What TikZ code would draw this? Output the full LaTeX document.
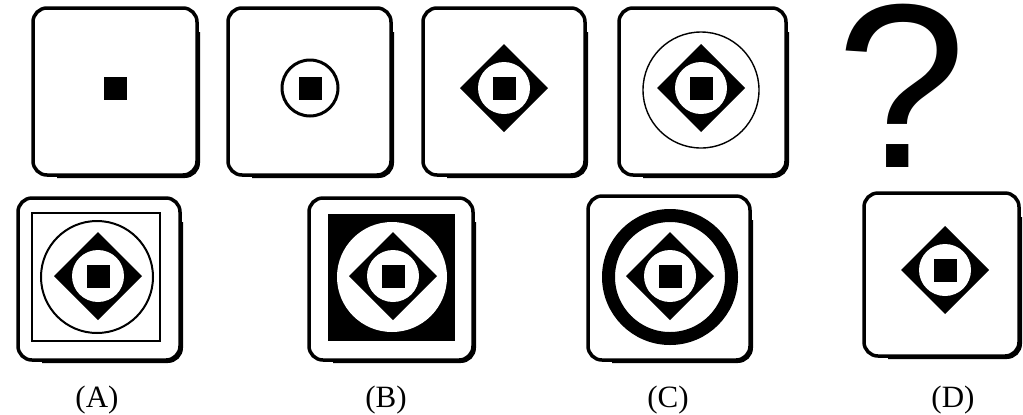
\documentclass[tikz,border=0pt]{standalone}
\usepackage{fontspec}
\setmainfont{Liberation Serif}
\newfontfamily\qfont{Liberation Sans}
\tikzset{
  frame/.style={line width=1.75pt, rounded corners=7pt},
  shadowline/.style={line width=1.2pt, rounded corners=7pt},
  label/.style={font=\fontsize{15.5}{15.5}\selectfont, anchor=base, inner sep=0pt},
  motif/.pic={
    \fill (-44,0) -- (0,-44) -- (44,0) -- (0,44) -- cycle;
    \fill[white] (0,0) circle (26);
    \fill (-11.5,-11.5) rectangle (11.5,11.5);
  }
}
\newcommand{\frm}[4]{%
  \draw[frame] (#1,#2) rectangle (#3,#4);
  \draw[shadowline] (#3+1.8,#2+24) -- (#3+1.8,#4+1.8) -- (#1+24,#4+1.8);
}
\begin{document}
\begin{tikzpicture}[x=0.5pt,y=-0.5pt]
\useasboundingbox (0,0) rectangle (1023,414);
% top row
\frm{33}{8}{197}{175}
\fill (103.5,76.5) rectangle (126.5,99.5);

\frm{228}{8}{391}{175}
\draw[line width=1.5pt] (310,88) circle (28);
\fill (299,77) rectangle (322,100);

\frm{423}{8}{585}{175}
\pic at (504,88) {motif};

\frm{619}{8}{786}{175}
\draw[line width=0.7pt] (701,90) circle (58);
\pic at (701,88) {motif};

\node[font=\qfont\fontsize{117}{117}\selectfont, anchor=base, inner sep=0pt] (q) at (901.5,167) {?};

% bottom row
\frm{18}{198}{180}{360}
\draw[line width=1pt] (32,213) rectangle (160,341);
\draw[line width=1pt] (97,277) circle (56);
\pic at (98,276) {motif};

\frm{309}{198}{473}{360}
\fill (328,214) rectangle (455,341);
\fill[white] (392,277) circle (55);
\pic at (393,276) {motif};

\frm{588}{196}{750}{360}
\draw[line width=6.5pt] (670,277) circle (61.5);
\pic at (670,276) {motif};

\frm{864}{193}{1019}{356}
\pic at (945,270) {motif};

\node[label] (la) at (97,407) {(A)};
\node[label] (lb) at (386,407) {(B)};
\node[label] (lc) at (668,407) {(C)};
\node[label] (ld) at (953,407) {(D)};
\end{tikzpicture}
\end{document}
